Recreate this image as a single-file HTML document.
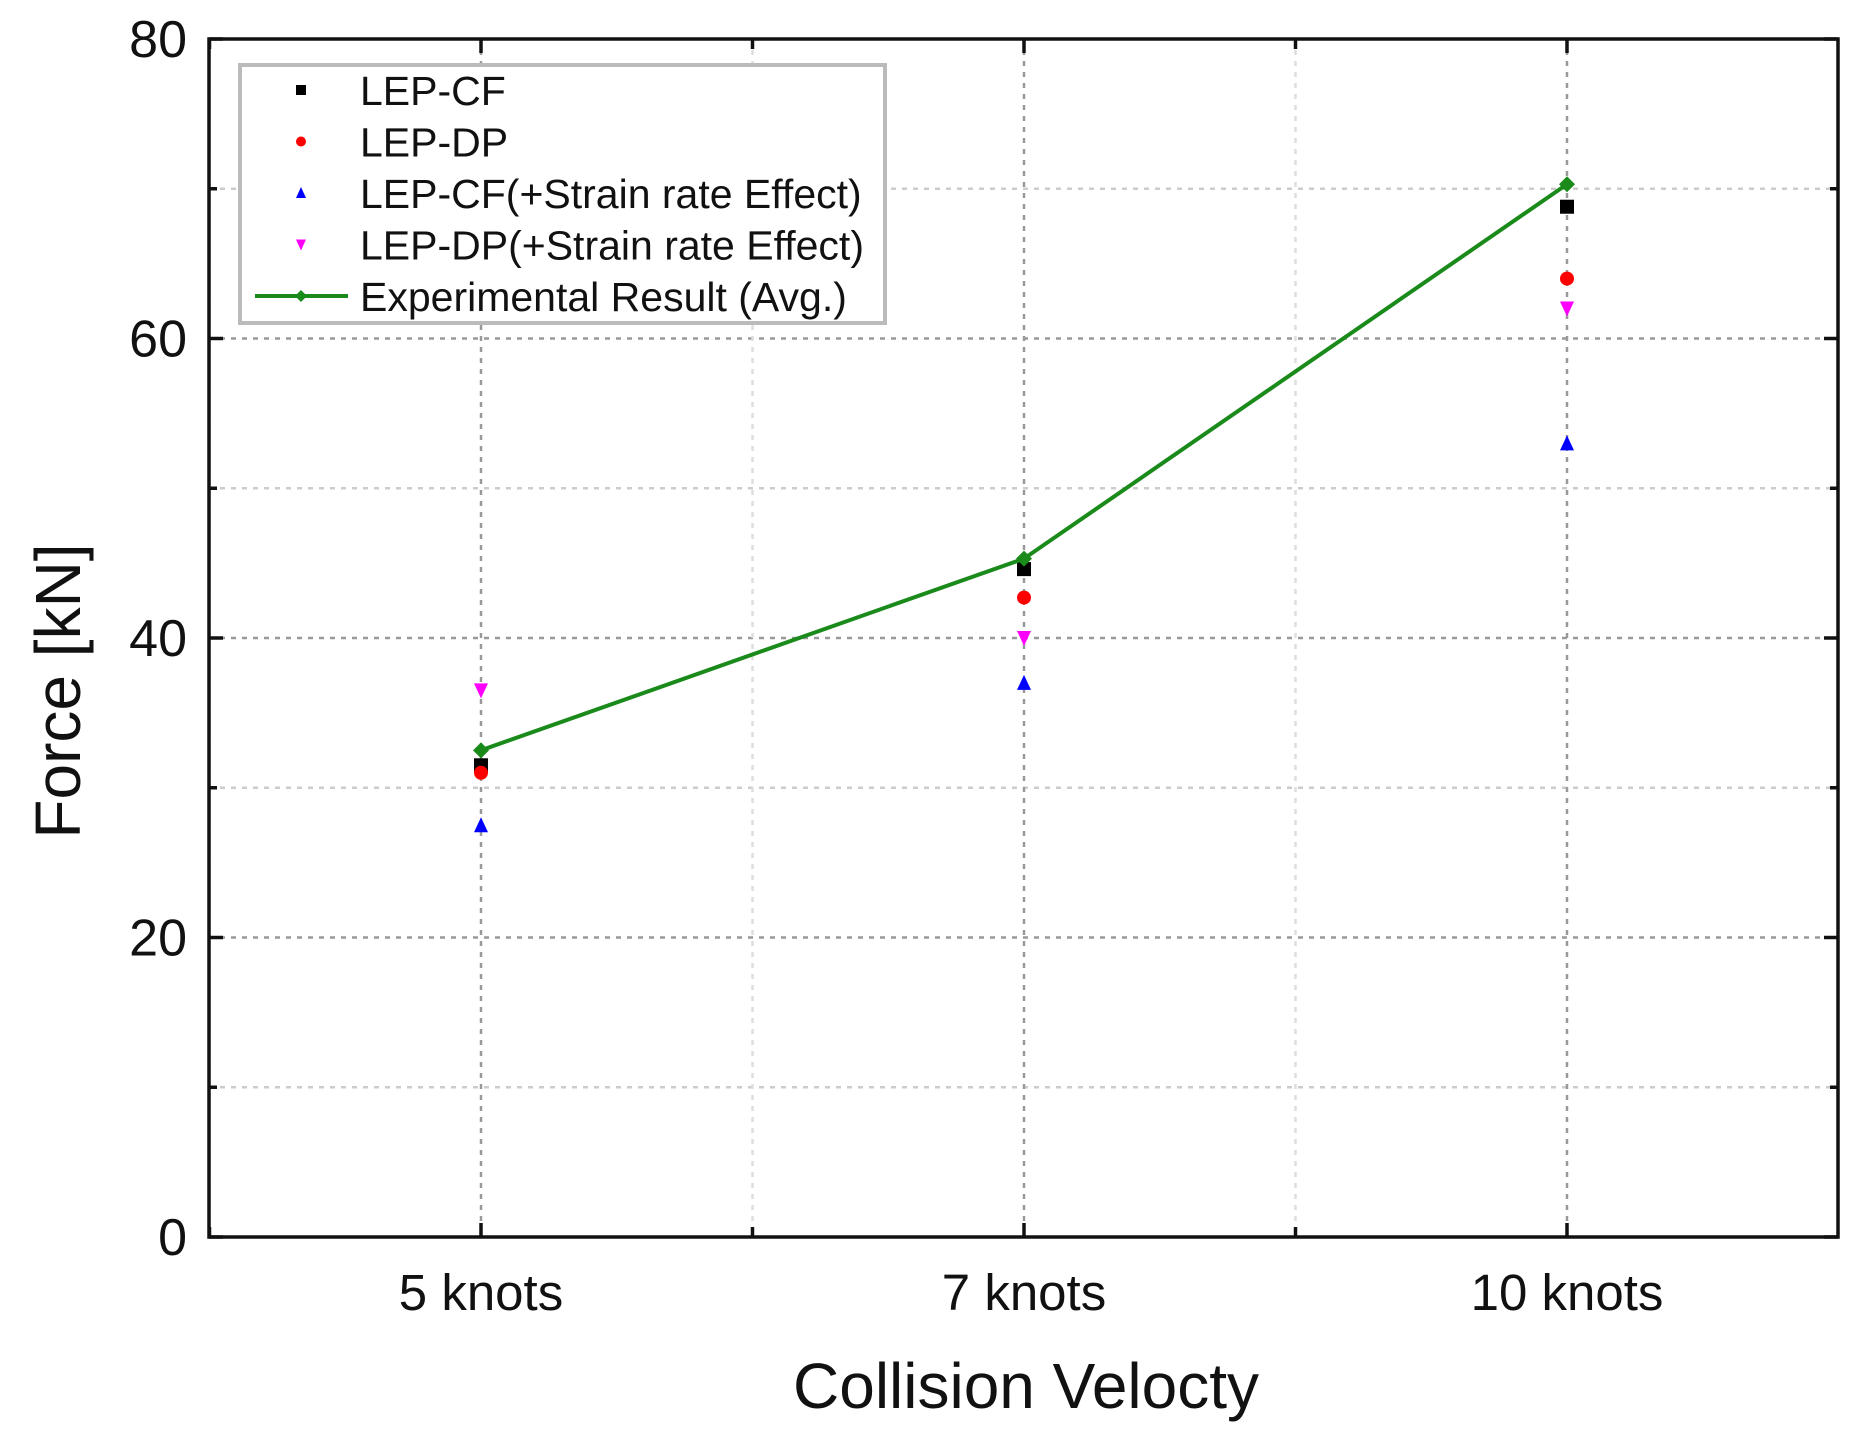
<!DOCTYPE html>
<html><head><meta charset="utf-8"><style>
html,body{margin:0;padding:0;background:#fff;}
svg{display:block;font-family:"Liberation Sans",Arial,sans-serif;}
</style></head><body>
<svg id="chart" width="1868" height="1440" viewBox="0 0 1868 1440">
<g id="grid"></g>
<g id="axes"></g>
<g id="series"></g>
<g id="legend"></g>
<text x="1026" y="1408" font-size="64" text-anchor="middle" fill="#111">Collision Velocty</text>
<text transform="translate(80,691) rotate(-90)" font-size="64" text-anchor="middle" fill="#111">Force [kN]</text>
</svg>
<script>
const categories = ["5 knots","7 knots","10 knots"];
const yTicks = [0,20,40,60,80];
const lepCF = [31.5,44.6,68.8];
const lepDP = [31.0,42.7,64.0];
const lepCFStrain = [27.5,37.0,53.0];
const lepDPStrain = [36.5,40.0,62.0];
const experimental = [32.5,45.3,70.3];

const NS="http://www.w3.org/2000/svg";
const L=209,R=1838,T=39,B=1237;
const xStart=481,xStep=543;
function xs(i){return xStart+i*xStep;}
function ys(v){return B-(v/80)*(B-T);}
function mk(tag,attrs,parent){const e=document.createElementNS(NS,tag);for(const k in attrs)e.setAttribute(k,attrs[k]);parent.appendChild(e);return e;}
const grid=document.getElementById('grid'),axes=document.getElementById('axes'),series=document.getElementById('series'),legend=document.getElementById('legend');

for(let v=10;v<80;v+=10){
  const g=mk('line',{x1:L,x2:R,y1:ys(v),y2:ys(v),stroke:v%20===0?'#999':'#ccc','stroke-width':2.5,'stroke-dasharray':'5,6'},grid);
  
  
}
for(let i=-0.5;i<=2.5;i+=0.5){
  const x=xs(i); if(x<=L||x>=R)continue;
  const g=mk('line',{x1:x,x2:x,y1:T,y2:B,stroke:Number.isInteger(i)?'#999':'#ddd','stroke-width':2.5,'stroke-dasharray':'5,6'},grid);
  
  
}
const fr=mk('rect',{x:L,y:T,width:R-L,height:B-T,fill:'none',stroke:'#111','stroke-width':3.5},axes);


for(let v=0;v<=80;v+=10){
  const len=v%20===0?14:8;
  mk('line',{x1:L,x2:L+len,y1:ys(v),y2:ys(v),stroke:'#111','stroke-width':3.5},axes);
  mk('line',{x1:R,x2:R-len,y1:ys(v),y2:ys(v),stroke:'#111','stroke-width':3.5},axes);
}
yTicks.forEach(v=>{
  const t=mk('text',{x:L-22,y:ys(v)+18,'font-size':52,'text-anchor':'end',fill:'#111'},axes);
  t.textContent=v;
  
  
});
for(let i=-0.5;i<=2.5;i+=0.5){
  const x=xs(i); if(x<=L||x>=R)continue;
  const len=Number.isInteger(i)?14:10;
  mk('line',{x1:x,x2:x,y1:B,y2:B-len,stroke:'#111','stroke-width':3.5},axes);
  mk('line',{x1:x,x2:x,y1:T,y2:T+len,stroke:'#111','stroke-width':3.5},axes);
}
categories.forEach((c,i)=>{
  const t=mk('text',{x:xs(i),y:1310,'font-size':51,'text-anchor':'middle',fill:'#111'},axes);
  t.textContent=c;
  
  
});
function marker(type,x,y,color,parent,s){
  s=s||7;let e;
  if(type==='square')e=mk('rect',{x:x-s,y:y-s,width:2*s,height:2*s,fill:color},parent);
  else if(type==='circle')e=mk('circle',{cx:x,cy:y,r:s,fill:color},parent);
  else if(type==='up')e=mk('polygon',{points:`${x},${y-s-1} ${x-s},${y+s} ${x+s},${y+s}`,fill:color},parent);
  else if(type==='down')e=mk('polygon',{points:`${x},${y+s+1} ${x-s},${y-s} ${x+s},${y-s}`,fill:color},parent);
  else e=mk('polygon',{points:`${x},${y-s} ${x+s},${y} ${x},${y+s} ${x-s},${y}`,fill:color},parent);
  return e;
}
const defs=[[lepCF,'square','#000','lep-cf-point'],[lepDP,'circle','#f00','lep-dp-point'],[lepCFStrain,'up','#00f','lep-cf-strain-point'],[lepDPStrain,'down','#f0f','lep-dp-strain-point']];
defs.forEach(d=>{d[0].forEach((v,i)=>{
  const m=marker(d[1],xs(i),ys(v),d[2],series);
  
  
});});
const pts=experimental.map((v,i)=>xs(i)+','+ys(v)).join(' ');
const pl=mk('polyline',{points:pts,fill:'none',stroke:'#1a8a1a','stroke-width':4},series);


experimental.forEach((v,i)=>{
  const m=marker('diamond',xs(i),ys(v),'#1a8a1a',series,8);
  
  
});
const lb=mk('rect',{x:240,y:65,width:645,height:258,fill:'#fff',stroke:'#bbb','stroke-width':4},legend);


const labels=["LEP-CF","LEP-DP","LEP-CF(+Strain rate Effect)","LEP-DP(+Strain rate Effect)","Experimental Result (Avg.)"];
const lt=['square','circle','up','down','diamond'];
const lc=['#000','#f00','#00f','#f0f','#1a8a1a'];
labels.forEach((s,i)=>{
  const y=90+i*51.5;
  if(i===4)mk('line',{x1:255,x2:348,y1:y,y2:y,stroke:'#1a8a1a','stroke-width':4},legend);
  marker(lt[i],301,y,lc[i],legend,i===4?6:5);
  const t=mk('text',{x:360,y:y+15,'font-size':41,fill:'#111',textLength:i<2?null:undefined},legend);
  t.removeAttribute('textLength');
  t.textContent=s;
  
  
});
</script>
</body></html>
